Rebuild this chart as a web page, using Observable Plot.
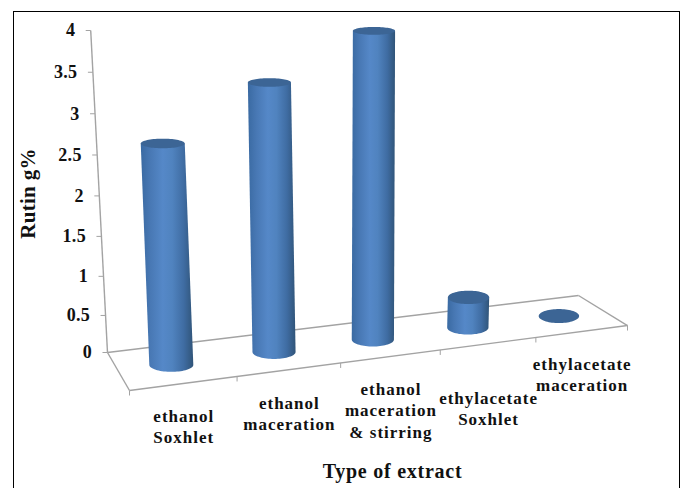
<!DOCTYPE html>
<html>
<head>
<meta charset="utf-8">
<script src="https://cdn.jsdelivr.net/npm/d3@7"></script>
<script src="https://cdn.jsdelivr.net/npm/@observablehq/plot@0.6"></script>
<style>
  html, body { margin: 0; padding: 0; background: #fff; }
  #chart { position: relative; width: 684px; height: 488px; overflow: hidden; }
  #chart svg { display: block; position: absolute; left: 0; top: 0; }
  #frame { position: absolute; left: 13px; top: 11px; width: 665px; height: 490px; border: 1.3px solid #000; }
  .category-label text { letter-spacing: 1px; }
  .x-title text { letter-spacing: 0.75px; }
  .y-title text { letter-spacing: 0.3px; }
  .value-label text { letter-spacing: 0.3px; }
</style>
</head>
<body>
<div id="chart"><div id="frame"></div></div>
<script>
// Rutin content by type of extract
const categories = [
  "ethanol\nSoxhlet",
  "ethanol\nmaceration",
  "ethanol\nmaceration\n& stirring",
  "ethylacetate\nSoxhlet",
  "ethylacetate\nmaceration"
];
const rutin = [2.79, 3.37, 3.84, 0.41, 0];
const valueTicks = [0, 0.5, 1, 1.5, 2, 2.5, 3, 3.5, 4];
const yTitle = "Rutin g%";
const xTitle = "Type of extract";

// Pixels per chart unit, used to express small offsets in scale units
const unitX = (627 - 129) / 5;
const unitY = (352 - 30) / 4;

// Foreshortening of the category axis and of the value axis
const along = (c) => (c / 5) * (1 + 0.1 * (1 - c / 5));
const rise = (v) => 4 * Math.pow(v / 4, 1.04);

// Floor corners in chart units (category units, value units)
const floor = {
  backLeft: [-0.221, 0],
  backRight: [4.508, 0.708],
  frontLeft: [0, -0.472],
  frontRight: [5, 0.335]
};

// Perspective mapping: category position, value and depth (0 back, 1 front)
function project(c, v, d) {
  const t = along(c);
  const { backLeft: bl, backRight: br, frontLeft: fl, frontRight: fr } = floor;
  const bx = bl[0] + t * (br[0] - bl[0]), by = bl[1] + t * (br[1] - bl[1]);
  const fx = fl[0] + t * (fr[0] - fl[0]), fy = fl[1] + t * (fr[1] - fl[1]);
  const x0 = bx + d * (fx - bx), y0 = by + d * (fy - by);
  const h = rise(v);
  return { x: x0 + (x0 - 2.27) * 0.0169 * h, y: y0 + h };
}

const radiusX = (i) => (22 - 0.45 * i) / unitX;
const radiusY = (v) => (7 - 0.8 * rise(v)) / unitY;

// One outline for each cylinder's side and one for its top face
const sides = [];
const tops = [];
rutin.forEach((value, i) => {
  const base = project(i + 0.5, 0, 0.5);
  const top = project(i + 0.5, value, 0.5);
  const rx = radiusX(i);
  const ryBase = radiusY(0);
  const ryTop = radiusY(value);
  if (value > 0) {
    sides.push({ id: i, x: top.x - rx, y: top.y });
    sides.push({ id: i, x: top.x + rx, y: top.y });
    d3.range(0, 37).forEach((k) => {
      const a = (k / 36) * Math.PI;
      sides.push({ id: i, x: base.x + rx * Math.cos(a), y: base.y - ryBase * Math.sin(a) });
    });
  }
  d3.range(0, 73).forEach((k) => {
    const a = (k / 72) * 2 * Math.PI;
    tops.push({ id: i, x: top.x + rx * Math.cos(a), y: top.y + ryTop * Math.sin(a) });
  });
});

const edge = (a, b) => ({ x1: a.x, y1: a.y, x2: b.x, y2: b.y });
const floorEdges = [
  edge(project(0, 0, 0), project(5, 0, 0)),
  edge(project(0, 0, 1), project(5, 0, 1)),
  edge(project(0, 0, 0), project(0, 0, 1)),
  edge(project(5, 0, 0), project(5, 0, 1)),
  edge(project(0, 0, 0), project(0, 4, 0))
];
const valueTickLinks = valueTicks.map((v) => {
  const p = project(0, v, 0);
  return { x1: p.x, y1: p.y, x2: p.x - 5 / unitX, y2: p.y };
});
const categoryTickLinks = d3.range(0, 6).map((c) => {
  const p = project(c, 0, 1);
  return { x1: p.x, y1: p.y, x2: p.x, y2: p.y - 5 / unitY };
});

// Labels hang below the front floor edge; the fourth is staggered to clear its neighbours
const categoryLabels = categories.map((text, i) => {
  const p = project(i + 0.5, 0, 1);
  return { text, x: p.x, y: p.y - ((i === 3 ? 45 : 24) / unitY) };
});

// Horizontal shading shared by the cylinder sides
const shading = () => {
  const defs = d3.create("svg:defs");
  const g = defs.append("linearGradient").attr("id", "cylinderSide")
    .attr("x1", 0).attr("x2", 1).attr("y1", 0).attr("y2", 0);
  [[0, "#3a6aa2"], [0.18, "#4878b4"], [0.42, "#5588c8"], [0.6, "#5083bf"], [0.82, "#3f6ca2"], [1, "#305478"]]
    .forEach(([o, c]) => g.append("stop").attr("offset", o).attr("stop-color", c));
  return defs.node();
};

const serif = "'Liberation Serif', 'Times New Roman', serif";
const axisGrey = "#a3a3a3";

const plot = Plot.plot({
  width: 684,
  height: 488,
  margin: 0,
  style: { background: "transparent", fontFamily: serif, color: "#111" },
  x: { domain: [0, 5], range: [129, 627], axis: null },
  y: { domain: [0, 4], range: [352, 30], axis: null },
  marks: [
    shading,
    Plot.link(floorEdges, { x1: "x1", y1: "y1", x2: "x2", y2: "y2", stroke: axisGrey, strokeWidth: 1.4 }),
    Plot.link(valueTickLinks, { x1: "x1", y1: "y1", x2: "x2", y2: "y2", stroke: axisGrey, strokeWidth: 1 }),
    Plot.link(categoryTickLinks, { x1: "x1", y1: "y1", x2: "x2", y2: "y2", stroke: axisGrey, strokeWidth: 1 }),
    Plot.line(sides, { x: "x", y: "y", z: "id", fill: "url(#cylinderSide)", stroke: "none" }),
    Plot.line(tops, { x: "x", y: "y", z: "id", fill: "#3c6595", stroke: "none" }),
    Plot.text(valueTicks, {
      x: (v) => project(0, v, 0).x,
      y: (v) => project(0, v, 0).y,
      text: (v) => String(v),
      dx: -15.5,
      textAnchor: "end",
      fontSize: 18,
      fontWeight: "bold",
      className: "value-label"
    }),
    Plot.text(categoryLabels, {
      x: "x",
      y: "y",
      text: "text",
      lineAnchor: "top",
      lineHeight: 1.24,
      fontSize: 17,
      fontWeight: "bold",
      className: "category-label"
    }),
    Plot.text([xTitle], {
      frameAnchor: "bottom",
      dx: 50,
      dy: -11,
      fontSize: 20,
      fontWeight: "bold",
      className: "x-title"
    }),
    Plot.text([yTitle], {
      frameAnchor: "left",
      textAnchor: "middle",
      dx: 28,
      dy: -51,
      rotate: -90,
      fontSize: 21,
      fontWeight: "bold",
      className: "y-title"
    })
  ]
});
document.getElementById("chart").appendChild(plot);
</script>
</body>
</html>
